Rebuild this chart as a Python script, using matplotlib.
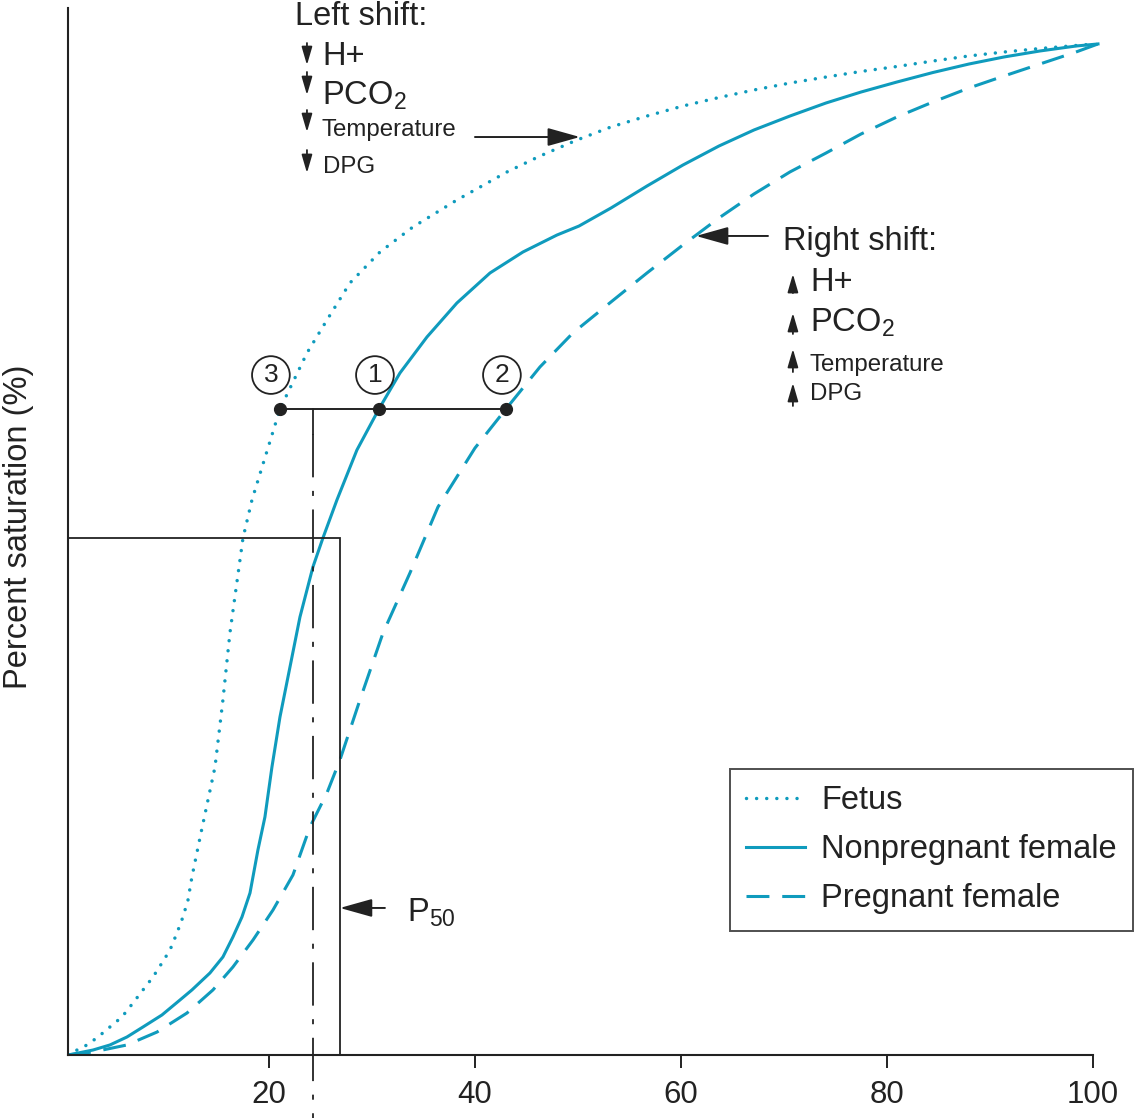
import matplotlib
matplotlib.use("Agg")
import matplotlib.pyplot as plt

plt.rcParams['font.family'] = ['Liberation Sans', 'DejaVu Sans']
plt.rcParams['mathtext.fontset'] = 'custom'
plt.rcParams['mathtext.rm'] = 'Liberation Sans'
plt.rcParams['mathtext.default'] = 'regular'

# ---- data ----
fetus_x = [0.49, 1.36, 2.33, 3.40, 4.56, 5.73, 6.80, 7.77, 8.74, 9.61, 10.39, 11.07, 11.65,
           12.14, 12.52, 13.40, 14.76, 15.53, 16.21, 17.48, 18.35, 21.07, 23.69, 25.63,
           27.86, 30.78, 33.98, 38.25, 43.11, 46.31, 49.90, 53.20, 56.70, 60.19, 63.69,
           67.09, 70.58, 74.08, 77.48, 80.97, 84.47, 87.96, 91.36, 94.85, 98.35, 100.19]
fetus_y = [0.0, 0.48, 0.97, 1.74, 2.71, 3.68, 5.03, 6.29, 7.54, 8.90, 10.15, 11.80, 13.35,
           14.99, 17.21, 21.47, 27.85, 34.33, 40.81, 50.0, 53.68, 62.48, 67.89, 71.08,
           74.66, 77.66, 80.08, 82.69, 85.40, 86.94, 88.49, 89.75, 90.81, 91.78, 92.60,
           93.33, 94.00, 94.58, 95.12, 95.60, 96.13, 96.62, 97.00, 97.34, 97.63, 97.78]

nonpreg_x = [0.49, 2.91, 4.56, 6.21, 7.77, 9.61, 11.36, 12.52, 14.27, 15.53, 16.50, 17.38,
             18.16, 18.93, 19.61, 20.29, 21.07, 22.04, 23.01, 24.27, 25.24, 26.60, 28.54,
             30.68, 32.72, 35.34, 38.25, 41.46, 44.66, 47.96, 50.10, 53.20, 56.70, 60.19,
             63.69, 67.09, 70.58, 74.08, 77.48, 80.97, 84.47, 87.96, 91.36, 94.85, 98.35,
             100.49]
nonpreg_y = [0.0, 0.48, 0.97, 1.74, 2.71, 3.87, 5.32, 6.29, 7.93, 9.48, 11.41, 13.35,
             15.67, 19.83, 23.02, 27.85, 32.69, 37.52, 42.36, 47.20, 50.0, 53.68, 58.51,
             62.48, 65.96, 69.44, 72.73, 75.63, 77.66, 79.30, 80.17, 81.91, 84.04, 86.07,
             87.91, 89.46, 90.81, 92.07, 93.13, 94.10, 95.02, 95.84, 96.52, 97.10, 97.58,
             97.78]

preg_x = [0.49, 2.91, 6.21, 9.13, 12.04, 14.56, 16.50, 18.45, 20.39, 22.33, 23.98, 25.63,
          26.89, 28.83, 31.07, 33.69, 36.41, 40.0, 43.01, 46.31, 49.51, 53.20, 56.70,
          60.19, 63.69, 67.09, 70.58, 74.08, 77.48, 80.97, 84.47, 87.96, 91.36, 94.85,
          98.35, 100.49]
preg_y = [0.0, 0.29, 0.97, 2.22, 4.06, 6.29, 8.51, 11.12, 14.02, 17.41, 22.05, 25.34,
          28.53, 34.33, 40.81, 46.62, 53.0, 58.70, 62.48, 66.54, 69.83, 72.82, 75.63,
          78.34, 80.95, 83.27, 85.40, 87.23, 89.07, 90.72, 92.17, 93.52, 94.68, 95.84,
          97.00, 97.78]

points_x = [21.07, 30.68, 43.01]
point_level = 62.48
point_labels = ['3', '1', '2']
p50_x = 24.27
box_x = 26.89
box_y = 50.0
xticks = [20, 40, 60, 80, 100]

teal = '#0f9bbd'
tc = '#222222'

fig = plt.figure(figsize=(11.34, 11.2), dpi=100)
ax = fig.add_axes([68/1134, 65/1120, 1066/1134, 1047/1120])
ax.set_xlim(0.49, 0.49 + 1066/10.3)
ax.set_ylim(0, 1047/10.34)

l_f, = ax.plot(fetus_x, fetus_y, color=teal, lw=2.5, linestyle=(0, (0.01, 2.9)),
               dash_capstyle='round', dash_joinstyle='round', label='Fetus')
l_n, = ax.plot(nonpreg_x, nonpreg_y, color=teal, lw=2.2, solid_joinstyle='round',
               label='Nonpregnant female')
l_p, = ax.plot(preg_x, preg_y, color=teal, lw=2.2, linestyle=(0, (7.5, 4.2)),
               dash_joinstyle='round', label='Pregnant female')

# P50 box
ax.plot([ax.get_xlim()[0], box_x, box_x], [box_y, box_y, 0], color=tc, lw=1.3,
        solid_joinstyle='miter')
# horizontal line through points
ax.plot([points_x[0], points_x[-1]], [point_level, point_level], color=tc, lw=1.4)
ax.plot(points_x, [point_level]*3, 'o', color=tc, ms=8.5, zorder=5)
# vertical dash-dot line
ax.plot([p50_x, p50_x], [point_level, point_level - 2.4], color=tc, lw=1.3)
ax.plot([p50_x, p50_x], [point_level - 2.4, -6.1], color=tc, lw=1.3,
        linestyle=(0, (24, 7.5, 2.8, 7.5)), clip_on=False)

circ_x = [20.19, 30.29, 42.62]
for cx, lab in zip(circ_x, point_labels):
    ax.text(cx, 65.76, lab, fontsize=19, ha='center', va='center', color=tc,
            bbox=dict(boxstyle='circle,pad=0.26', fc='white', ec=tc, lw=1.3))

# spines / ticks
for s in ['top', 'right']:
    ax.spines[s].set_visible(False)
for s in ['left', 'bottom']:
    ax.spines[s].set_linewidth(1.5)
    ax.spines[s].set_color(tc)
ax.spines['bottom'].set_bounds(ax.get_xlim()[0], 100)
ax.set_yticks([])
ax.set_xticks(xticks)
ax.tick_params(axis='x', direction='out', length=9, width=1.4, pad=9,
               labelsize=22.5, colors=tc)

fig.text(19/1134, 1 - 527/1120, 'Percent saturation (%)', rotation=90,
         ha='center', va='center', fontsize=23.5, color=tc)

arrow_small = dict(arrowstyle='-|>,head_length=0.55,head_width=0.16', color=tc, lw=1.3,
                   mutation_scale=20, shrinkA=0, shrinkB=0)
arrow_big = dict(arrowstyle='-|>,head_length=1.0,head_width=0.28', color=tc, lw=1.4,
                 mutation_scale=20, shrinkA=0, shrinkB=0)

# Left shift block
ax.text(22.52, 99.61, 'Left shift:', fontsize=23.5, ha='left', va='baseline', color=tc)
ax.text(25.15, 95.74, 'H+', fontsize=23.5, ha='left', va='baseline', color=tc)
ax.text(25.15, 91.88, 'PCO$_{2}$', fontsize=23.5, ha='left', va='baseline', color=tc)
ax.text(25.15, 88.88, 'Temperature', fontsize=17.3, ha='left', va='baseline', color=tc)
ax.text(25.24, 85.30, 'DPG', fontsize=17.3, ha='left', va='baseline', color=tc)
for y0, y1 in [(97.87, 95.74), (95.07, 92.84), (91.39, 89.26), (87.52, 85.30)]:
    ax.annotate('', xy=(23.69, y1), xytext=(23.69, y0), arrowprops=arrow_small)
ax.annotate('', xy=(50.19, 88.78), xytext=(40.0, 88.78), arrowprops=arrow_big)

# Right shift block
ax.text(69.90, 77.85, 'Right shift:', fontsize=23.5, ha='left', va='baseline', color=tc)
ax.text(72.52, 73.89, 'H+', fontsize=23.5, ha='left', va='baseline', color=tc)
ax.text(72.52, 69.92, 'PCO$_{2}$', fontsize=23.5, ha='left', va='baseline', color=tc)
ax.text(72.52, 66.15, 'Temperature', fontsize=17.3, ha='left', va='baseline', color=tc)
ax.text(72.52, 63.35, 'DPG', fontsize=17.3, ha='left', va='baseline', color=tc)
for y0, y1 in [(73.69, 75.53), (69.73, 71.76), (66.05, 68.28), (62.77, 64.99)]:
    ax.annotate('', xy=(70.87, y1), xytext=(70.87, y0), arrowprops=arrow_small)
ax.annotate('', xy=(61.46, 79.21), xytext=(68.45, 79.21), arrowprops=arrow_big)

# P50 annotation
ax.annotate('', xy=(26.89, 14.22), xytext=(31.26, 14.22), arrowprops=arrow_big)
ax.text(33.40, 12.86, 'P$_{50}$', fontsize=23.5, ha='left', va='baseline', color=tc)

leg = ax.legend(handles=[l_f, l_n, l_p], loc='upper left',
                bbox_to_anchor=((730-68)/1066, (1055-769)/1047),
                borderaxespad=0, fontsize=23.5, frameon=True, fancybox=False,
                handlelength=1.8, handletextpad=0.5, labelspacing=0.55,
                borderpad=0.5)
leg.get_frame().set_edgecolor(tc)
leg.get_frame().set_linewidth(1.4)
for t in leg.get_texts():
    t.set_color(tc)

fig.savefig('out.png', dpi=100)
